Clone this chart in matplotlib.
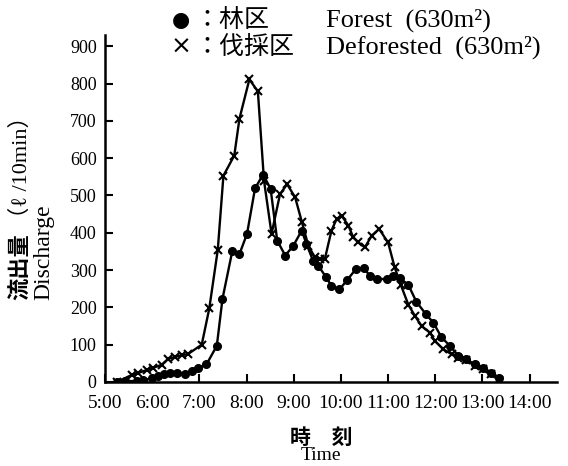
import matplotlib
matplotlib.use("Agg")
import matplotlib.pyplot as plt

# ---- data (time in decimal hours, discharge in l/10min) ----
forest_t = [5.25, 5.42, 5.67, 5.81, 5.99, 6.13, 6.24, 6.38, 6.52, 6.69, 6.84, 6.98,
            7.15, 7.37, 7.49, 7.70, 7.85, 8.01, 8.18, 8.35, 8.51, 8.65, 8.82, 8.99,
            9.17, 9.27, 9.41, 9.52, 9.68, 9.80, 9.97, 10.13, 10.32, 10.49, 10.61,
            10.77, 10.97, 11.11, 11.25, 11.43, 11.60, 11.80, 11.96, 12.13, 12.31,
            12.49, 12.66, 12.84, 13.02, 13.19, 13.35]
forest_q = [0, 2, 3, 5, 10, 16, 21, 23, 25, 22, 30, 38,
            47, 97, 223, 352, 343, 397, 519, 556, 518, 379, 339, 365,
            406, 370, 325, 312, 282, 258, 248, 273, 303, 305, 285,
            276, 276, 285, 278, 260, 215, 182, 159, 120, 97,
            70, 61, 47, 38, 25, 12]

defor_t = [5.25, 5.57, 5.70, 5.88, 6.02, 6.20, 6.34, 6.48, 6.63, 6.76, 7.05,
           7.21, 7.39, 7.51, 7.74, 7.85, 8.06, 8.24, 8.37, 8.53, 8.71, 8.86,
           9.03, 9.17, 9.31, 9.45, 9.56, 9.66, 9.80, 9.91, 10.02, 10.16, 10.26,
           10.37, 10.51, 10.65, 10.81, 11.00, 11.14, 11.27, 11.43, 11.57, 11.71,
           11.89, 11.99, 12.17, 12.35, 12.49, 12.66, 12.84, 13.02, 13.19, 13.35]
defor_q = [0, 19, 24, 32, 38, 46, 62, 67, 72, 75, 100,
           197, 354, 553, 607, 706, 811, 779, 540, 397, 504, 530,
           495, 430, 365, 334, 330, 330, 406, 437, 445, 419, 388,
           374, 361, 392, 410, 374, 307, 260, 207, 177, 150,
           132, 110, 88, 74, 65, 58, 43, 34, 21, 5]

xticks = list(range(5, 15))
xtick_labels = [f"{h}:00" for h in xticks]
yticks = list(range(0, 1000, 100))

SERIF = ['Liberation Serif', 'Noto Sans CJK JP']
CJK = ['Noto Sans CJK JP', 'Liberation Serif']

W, H = 568, 466
fig = plt.figure(figsize=(W / 100, H / 100), dpi=100)
ax = fig.add_axes([105 / W, 1 - 382 / H, (557 - 105) / W, (382 - 35) / H])

ax.plot(forest_t, forest_q, color='black', lw=1.7, marker='o', ms=5.5)
ax.plot(defor_t, defor_q, color='black', lw=1.7, marker='x', ms=6, mew=1.5)

ax.set_xlim(5, 14.58)
ax.set_ylim(0, 930)
ax.set_xticks(xticks)
ax.set_xticklabels(xtick_labels, family=SERIF, fontsize=14)
ax.set_yticks(yticks)
ax.set_yticklabels([str(v) for v in yticks], family=SERIF, fontsize=13)
ax.tick_params(direction='in', length=6, width=1.5)
ax.tick_params(axis='y', pad=6)
ax.tick_params(axis='x', pad=9)
for s in ['top', 'right']:
    ax.spines[s].set_visible(False)
for s in ['left', 'bottom']:
    ax.spines[s].set_linewidth(1.8)


def fx(px):
    return px / W


def fy(py):
    return 1 - py / H


# legend (text block at top)
fig.text(fx(181), fy(20), '●', family=['DejaVu Sans'], fontsize=15, ha='center', va='center')
fig.text(fx(181), fy(47), '×', family=['DejaVu Sans'], fontsize=18, ha='center', va='center')
fig.text(fx(194), fy(20), '：林区', family=CJK, fontsize=18, ha='left', va='center')
fig.text(fx(194), fy(47), '：伐採区', family=CJK, fontsize=18, ha='left', va='center')
fig.text(fx(326), fy(20), 'Forest  (630m²)', family=SERIF, fontsize=19, ha='left', va='center')
fig.text(fx(326), fy(47), 'Deforested  (630m²)', family=SERIF, fontsize=19, ha='left', va='center')

# y label
fig.canvas.draw()
r = fig.canvas.get_renderer()
t1 = fig.text(fx(21), fy(300), '流出量', family=CJK, fontsize=16, weight='bold',
              rotation=90, rotation_mode='anchor', ha='left', va='center')
bb = t1.get_window_extent(r)
fig.text(fx(21), (bb.y1 + 4) / H, '（ℓ /10min）', family=SERIF, fontsize=16,
         rotation=90, rotation_mode='anchor', ha='left', va='center')
fig.text(fx(44), fy(300), 'Discharge', family=SERIF, fontsize=17,
         rotation=90, rotation_mode='anchor', ha='left', va='center')

# x label
fig.text(fx(321), fy(437), '時　刻', family=CJK, fontsize=15, weight='bold', ha='center', va='center')
fig.text(fx(321), fy(456), 'Time', family=SERIF, fontsize=14, ha='center', va='center')

fig.savefig('out.png', dpi=100)
